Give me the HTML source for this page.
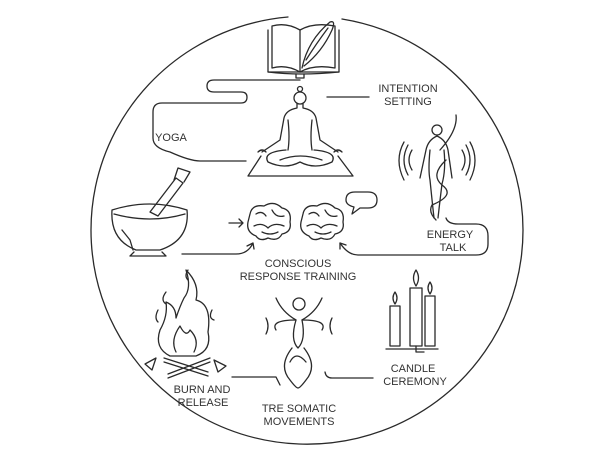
<!DOCTYPE html>
<html><head><meta charset="utf-8"><style>
html,body{margin:0;padding:0;background:#fff;}
svg{display:block;}
text{font-family:"Liberation Sans",sans-serif;font-size:11px;fill:#333;text-anchor:middle;}
</style></head><body>
<svg width="600" height="451" viewBox="0 0 600 451" xmlns="http://www.w3.org/2000/svg">
<g fill="none" stroke="#2a2a2a" stroke-width="1.3" stroke-linecap="round" stroke-linejoin="round">
<path d="M288 17 A216 214 0 1 0 342 19"/>
<!-- book -->
<path d="M268 30 L268 72 L300 72 L339 72 L339 30"/>
<path d="M272 26 Q286 22 300 30 Q314 22 335 26 L335 68 Q314 64 300 72 Q286 64 272 68 Z"/>
<path d="M300 30 L300 72"/>
<path d="M268 72 Q300 76 339 72"/>
<path d="M296 74 L296 78 L304 78 L304 74"/>
<path d="M302 68 Q308 40 330 22 Q336 20 332 30 Q322 52 304 66"/>
<path d="M306 60 Q316 44 328 28"/>
<!-- yoga connector -->
<path d="M300 80 L214 80 Q207 80 207 86 Q207 92 214 92 L241 92 Q247 92 247 97 Q247 103 241 103 L162 103 Q153 103 153 112 L153 138 Q153 148 170 152 Q190 161 200 161 L246 161"/>
<path d="M327 97 L369 97"/>
<!-- yoga figure -->
<circle cx="300" cy="98" r="6"/>
<circle cx="300" cy="89" r="2.5"/>
<path d="M297 104 L297 108 Q286 110 284 118 L280 140 L262 152 M303 104 L303 108 Q314 110 316 118 L320 140 L338 152"/>
<path d="M288 120 Q290 138 288 150 M312 120 Q310 138 312 150"/>
<path d="M286 150 Q262 152 268 162 Q285 170 300 162 Q315 170 332 162 Q338 152 314 150"/>
<path d="M280 160 Q300 152 322 160"/>
<path d="M258 152 Q262 148 266 152 M334 152 Q338 148 342 152"/>
<path d="M261 156 L248 176 L353 176 L338 156"/>
<!-- energy figure -->
<circle cx="437" cy="130" r="5"/>
<path d="M437 136 Q428 140 426 150 L420 178 M437 136 Q446 140 448 150 L452 178"/>
<path d="M430 150 Q428 170 430 180 Q432 200 434 218 M444 150 Q446 170 442 184 Q440 200 438 218"/>
<path d="M440 150 Q458 130 456 115 M446 160 Q430 175 442 185 Q456 195 432 205 Q428 212 436 220"/>
<path d="M412 150 Q406 160 412 170 M408 145 Q400 160 408 175 M404 142 Q394 160 404 180 M462 150 Q468 160 462 170 M466 145 Q474 160 466 175 M470 142 Q480 160 470 180"/>
<!-- energy connector -->
<path d="M446 218 Q448 224 458 224 L476 224 Q488 224 488 236 L488 244 Q488 255 476 255 L358 255 Q348 255 340 243"/>
<path d="M340 243 L340 249 M340 243 L346 245"/>
<!-- mortar -->
<path d="M112 210 Q150 198 187 210 Q190 240 160 250 L136 250 Q110 240 112 210 Z"/>
<path d="M114 214 Q150 224 185 214"/>
<path d="M134 252 L130 256 L166 256 L162 252"/>
<path d="M122 230 L130 240 L133 250"/>
<path d="M150 212 L176 178 L183 183 L158 216 Z"/>
<path d="M174 180 L178 168 L190 172 L184 182"/>
<path d="M182 254 L236 254 Q248 254 253 243 M253 243 L247 246 M253 243 L254 249"/>
<path d="M229 223 L243 223 M239 219 L243 223 L239 227"/>
<!-- brains -->
<path d="M250 214 Q252 204 264 206 Q274 200 282 208 Q292 210 290 222 Q292 232 282 234 Q278 242 268 238 Q260 242 256 236 Q246 232 248 222 Z"/>
<path d="M256 214 Q262 210 266 216 M272 210 Q276 218 284 216 M254 226 Q262 222 268 228 Q274 222 284 226 M262 232 Q270 236 278 232"/>
<path d="M303 214 Q305 204 317 206 Q327 200 335 208 Q345 210 343 222 Q345 232 335 234 Q331 242 321 238 Q313 242 309 236 Q299 232 301 222 Z"/>
<path d="M309 214 Q315 210 319 216 M325 210 Q329 218 337 216 M307 226 Q315 222 321 228 Q327 222 337 226 M315 232 Q323 236 331 232"/>
<path d="M355 192 L368 192 Q377 192 377 200 Q377 208 368 208 L360 208 L352 214 L354 207 Q346 205 346 200 Q346 192 355 192 Z"/>
<!-- fire -->
<path d="M184 298 Q192 288 186 270 Q200 284 196 300 Q212 304 208 332 Q212 350 196 356 L170 356 Q154 348 160 330 Q168 316 166 302 Q176 306 176 318 Q180 306 184 298 Z"/>
<path d="M176 352 Q170 340 180 326 Q186 338 190 330 Q200 340 194 352"/>
<path d="M166 292 Q160 300 166 304 M212 310 Q208 318 214 320 M158 310 Q154 318 158 322 M188 270 Q184 276 188 280"/>
<path d="M164 358 L208 372 M164 362 L208 376 M210 358 L168 374 M210 362 L168 378"/>
<path d="M145 364 L156 358 L152 370 Z M214 360 L226 366 L218 372 Z"/>
<!-- TRE figure -->
<circle cx="299" cy="304" r="6"/>
<path d="M276 298 Q282 312 296 320 Q290 340 298 348 Q306 340 302 320 Q316 312 322 298"/>
<path d="M296 320 Q270 320 276 330 M302 320 Q328 320 322 330"/>
<path d="M266 318 Q270 326 266 334 M332 318 Q328 326 332 334"/>
<path d="M292 348 Q278 366 290 380 Q296 388 298 388 M304 348 Q318 366 306 380 Q300 388 298 388"/>
<path d="M290 362 Q296 350 306 362 M280 385 L276 377 L232 377"/>
<path d="M325 372 Q326 378 332 378 L373 378"/>
<!-- candles -->
<rect x="390" y="306" width="10" height="40"/>
<rect x="410" y="288" width="12" height="58"/>
<rect x="425" y="296" width="10" height="50"/>
<path d="M395 304 Q391 298 395 292 Q399 298 395 304 Z M416 286 Q411 278 416 270 Q421 278 416 286 Z M430 294 Q426 288 430 282 Q434 288 430 294 Z"/>
<path d="M386 349 L438 349 M416 346 L416 352 L424 352"/>
</g>
<text x="408" y="92">INTENTION</text>
<text x="408" y="105">SETTING</text>
<text x="171" y="141">YOGA</text>
<text x="450" y="238">ENERGY</text>
<text x="453" y="251">TALK</text>
<text x="298" y="267">CONSCIOUS</text>
<text x="298" y="280">RESPONSE TRAINING</text>
<text x="202" y="393">BURN AND</text>
<text x="203" y="406">RELEASE</text>
<text x="299" y="412">TRE SOMATIC</text>
<text x="299" y="425">MOVEMENTS</text>
<text x="413" y="372">CANDLE</text>
<text x="415" y="385">CEREMONY</text>
</svg>
</body></html>
